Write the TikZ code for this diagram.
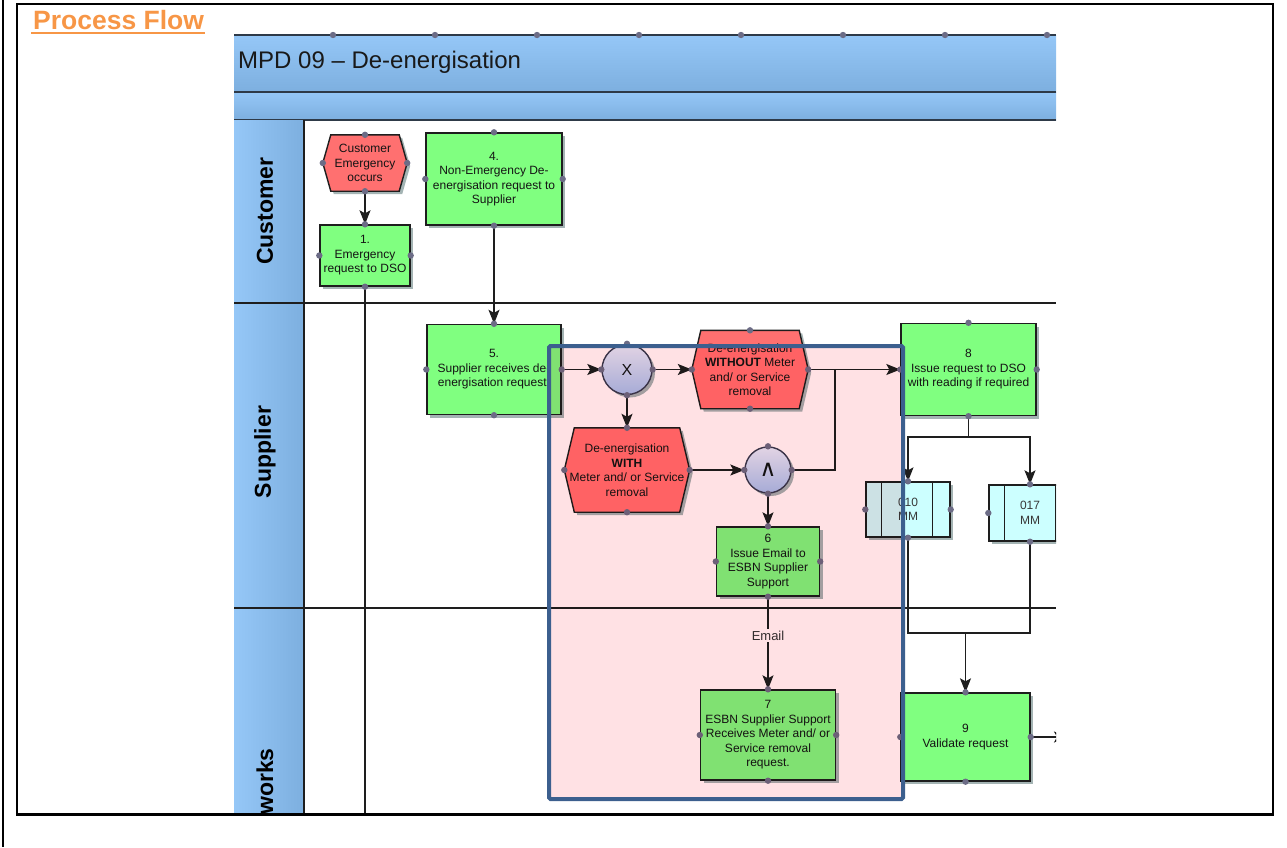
\documentclass[tikz,border=0pt]{standalone}
\usepackage{fontspec}
\setmainfont{Liberation Sans}
\newfontfamily\dejavu{DejaVu Sans}
\usetikzlibrary{arrows.meta,shadows,calc}

\definecolor{hdrtop}{HTML}{95C7F7}
\definecolor{hdrbot}{HTML}{7DAFDF}
\definecolor{hdrline}{HTML}{2E3A48}
\definecolor{nodegreen}{HTML}{80FF80}
\definecolor{nodered}{HTML}{FF7070}
\definecolor{cyanbox}{HTML}{CCFFFF}
\definecolor{gwtop}{HTML}{E2F0FF}
\definecolor{gwbot}{HTML}{A6C2F0}
\definecolor{gwedge}{HTML}{3A3A50}
\definecolor{dotc}{HTML}{6C6C86}
\definecolor{pinkov}{HTML}{FFE1E4}
\definecolor{frameblue}{HTML}{3C5F8E}
\definecolor{orangeT}{HTML}{F79646}
\definecolor{edgec}{HTML}{1E1E1E}
\definecolor{txtc}{HTML}{141414}
\definecolor{shadowc}{HTML}{9AACAC}

\newcommand{\drawhexagon}[2]{%
  \path[hexfill] ([xshift=#2pt]#1.north west) -- ([xshift=-#2pt]#1.north east) -- (#1.east)
    -- ([xshift=-#2pt]#1.south east) -- ([xshift=#2pt]#1.south west) -- (#1.west) -- cycle;}

\begin{document}
\begin{tikzpicture}[x=1pt,y=-1pt,
  font=\fontsize{12}{14.5}\selectfont,
  shad/.style={drop shadow={shadow xshift=3pt,shadow yshift=-3pt,fill=shadowc,opacity=0.9}},
  box/.style={draw=edgec,line width=1.4pt,fill=nodegreen,align=center,inner sep=1pt,text=txtc,shad},
  hexbox/.style={inner sep=0pt},
  hexfill/.style={draw=edgec,line width=1.4pt,fill=nodered,shad},
  hextxt/.style={align=center,inner sep=0pt,text=txtc},
  gw/.style={circle,draw=gwedge,line width=1.4pt,top color=gwtop,bottom color=gwbot,inner sep=0pt,shad,text=txtc},
  mmbox/.style={draw=edgec,line width=1.4pt,fill=cyanbox,align=center,inner sep=0pt,shad,text=txtc!85},
  conn/.style={draw=edgec,line width=1.4pt},
  arr/.style={conn,-{Stealth[length=14pt,width=11pt,inset=3pt]}},
  cdot/.style={fill=dotc},
  lanelbl/.style={rotate=90,font=\fontsize{23}{26}\selectfont\bfseries,inner sep=0pt,text=black},
  laneline/.style={draw=edgec,line width=1.4pt}
]
\useasboundingbox (0,0) rectangle (1287,847);

\begin{scope}
\clip (234,29) rectangle (1056,815);
% header bands
\shade[top color=hdrtop,bottom color=hdrbot] (234,35) rectangle (1056,92);
\shade[top color=hdrtop,bottom color=hdrbot] (234,92) rectangle (1056,120);
\draw[hdrline,line width=1.5pt] (234,35) -- (1056,35);
\draw[hdrline,line width=1.5pt] (234,92) -- (1056,92);
\draw[hdrline,line width=1.5pt] (234,120) -- (1056,120);
\foreach \x in {333,435,537,639,741,843,945,1047} \fill[cdot] (\x,35) circle[radius=3.2pt];
\node[anchor=west,font=\fontsize{24}{26}\selectfont,text=black!90,inner sep=0pt] (title) at (238,62) {MPD 09 – De-energisation};
% lane column
\shade[left color=hdrtop,right color=hdrbot] (234,120) rectangle (304,815);
\draw[laneline] (304,120) -- (304,815);
\draw[laneline] (234,303) -- (1056,303);
\draw[laneline] (234,608) -- (1056,608);
\node[lanelbl] (lcust) at (265,211) {Customer};
\node[lanelbl] (lsup) at (265,452) {Supplier};
\node[lanelbl,anchor=east] (lnet) at (265,748) {Networks};

% nodes
\node[hexbox,minimum width=84pt,minimum height=56pt] (emg) at (365,163) {};
\drawhexagon{emg}{8}
\node[hextxt] (emgt) at (emg) {Customer\\Emergency\\occurs};

\node[box,minimum width=90pt,minimum height=61pt] (n1) at (365,255.5) {1.\\Emergency\\request to DSO};
\node[box,minimum width=136pt,minimum height=92pt] (n4) at (494,179) {4.\\Non-Emergency De-\\energisation request to\\Supplier};
\node[box,minimum width=134pt,minimum height=90pt] (n5) at (494,369.5) {5.\\Supplier receives de-\\energisation request.};
\node[gw,minimum size=50pt,font=\fontsize{16}{18}\selectfont] (xg) at (627,369.5) {X};

\node[hexbox,minimum width=116pt,minimum height=78pt] (wo) at (750,369.5) {};
\drawhexagon{wo}{9}
\node[hextxt] (wot) at (wo) {De-energisation\\\textbf{WITHOUT} Meter\\and/ or Service\\removal};

\node[hexbox,minimum width=125pt,minimum height=84pt] (wi) at (627,470) {};
\drawhexagon{wi}{10}
\node[hextxt] (wit) at (wi) {De-energisation\\\textbf{WITH}\\Meter and/ or Service\\removal};

\node[gw,minimum size=46pt,font=\dejavu\fontsize{23}{24}\selectfont] (ag) at (768,470) {∧};
\node[box,minimum width=103pt,minimum height=69pt] (n6) at (768,561.5) {6\\Issue Email to\\ESBN Supplier\\Support};
\node[box,minimum width=135pt,minimum height=90pt] (n7) at (768,735) {7\\ESBN Supplier Support\\Receives Meter and/ or\\Service removal\\request.};
\node[box,minimum width=135pt,minimum height=92pt] (n8) at (968.5,369.5) {8\\Issue request to DSO\\with reading if required};
\node[mmbox,minimum width=84pt,minimum height=55pt] (mm10) at (908,509.5) {010\\MM};
\draw[conn] ([xshift=16pt]mm10.north west) -- ([xshift=16pt]mm10.south west);
\draw[conn] ([xshift=-18pt]mm10.north east) -- ([xshift=-18pt]mm10.south east);
\node[mmbox,minimum width=82pt,minimum height=56pt] (mm17) at (1030,513) {017\\MM};
\draw[conn] ([xshift=16pt]mm17.north west) -- ([xshift=16pt]mm17.south west);
\draw[conn] ([xshift=-16pt]mm17.north east) -- ([xshift=-16pt]mm17.south east);
\node[box,minimum width=129pt,minimum height=88pt] (n9) at (965.5,737) {9\\Validate request};

% connectors
\coordinate (n1end) at (365,815);
\coordinate (j1) at (835,369.5);
\coordinate (b1) at (968.5,437);
\coordinate (b2) at (965.5,633);
\coordinate (n9out) at (1068,737);
\draw[arr] (emg.south) -- (n1.north);
\draw[conn] (n1.south) -- (n1end);
\draw[arr] (n4.south) -- (n5.north);
\draw[arr] (n5.east) -- (xg.west);
\draw[arr] (xg.east) -- (wo.west);
\draw[arr] (xg.south) -- (wi.north);
\draw[arr] (wo.east) -- (n8.west);
\draw[arr] (wi.east) -- (ag.west);
\draw[conn] (ag.east) -| (j1);
\draw[arr] (ag.south) -- (n6.north);
\draw[arr] (n6.south) -- node[pos=0.42,fill=white,inner sep=2pt,font=\fontsize{13}{15}\selectfont,text=black!80] (email) {Email} (n7.north);
\draw[conn] (n8.south) -- (b1);
\draw[arr] (b1) -| (mm10.north);
\draw[arr] (b1) -| (mm17.north);
\draw[conn] (mm10.south) |- (b2);
\draw[conn] (mm17.south) |- (b2);
\draw[arr] (b2) -- (n9.north);
\draw[arr] (n9.east) -- (n9out);

% connection dots
\foreach \n in {emg,n1,n4,n5,xg,wo,wi,ag,n6,n7,n8,mm10,mm17,n9}{
  \foreach \a in {north,south,east,west}{\fill[cdot] (\n.\a) circle[radius=3.2pt];}}

% highlight
\begin{scope}[blend mode=multiply]
\fill[pinkov] (549,346) rectangle (903,799);
\end{scope}
\draw[frameblue,line width=4pt,rounded corners=1.5pt] (549,346) rectangle (903,799);
\end{scope}

% page frame and heading
\draw[black,line width=2.5pt] (17,4) rectangle (1273,814.5);
\draw[black,line width=2.5pt] (3,0) -- (3,847);
\node[anchor=base west,inner sep=0pt,font=\fontsize{26.5}{29}\selectfont\bfseries,text=orangeT] (pf) at (33,29) {Process Flow};
\draw[orangeT,line width=2.8pt] ([xshift=-2pt,yshift=-4pt]pf.base west) -- ([xshift=1pt,yshift=-4pt]pf.base east);
\end{tikzpicture}
\end{document}
